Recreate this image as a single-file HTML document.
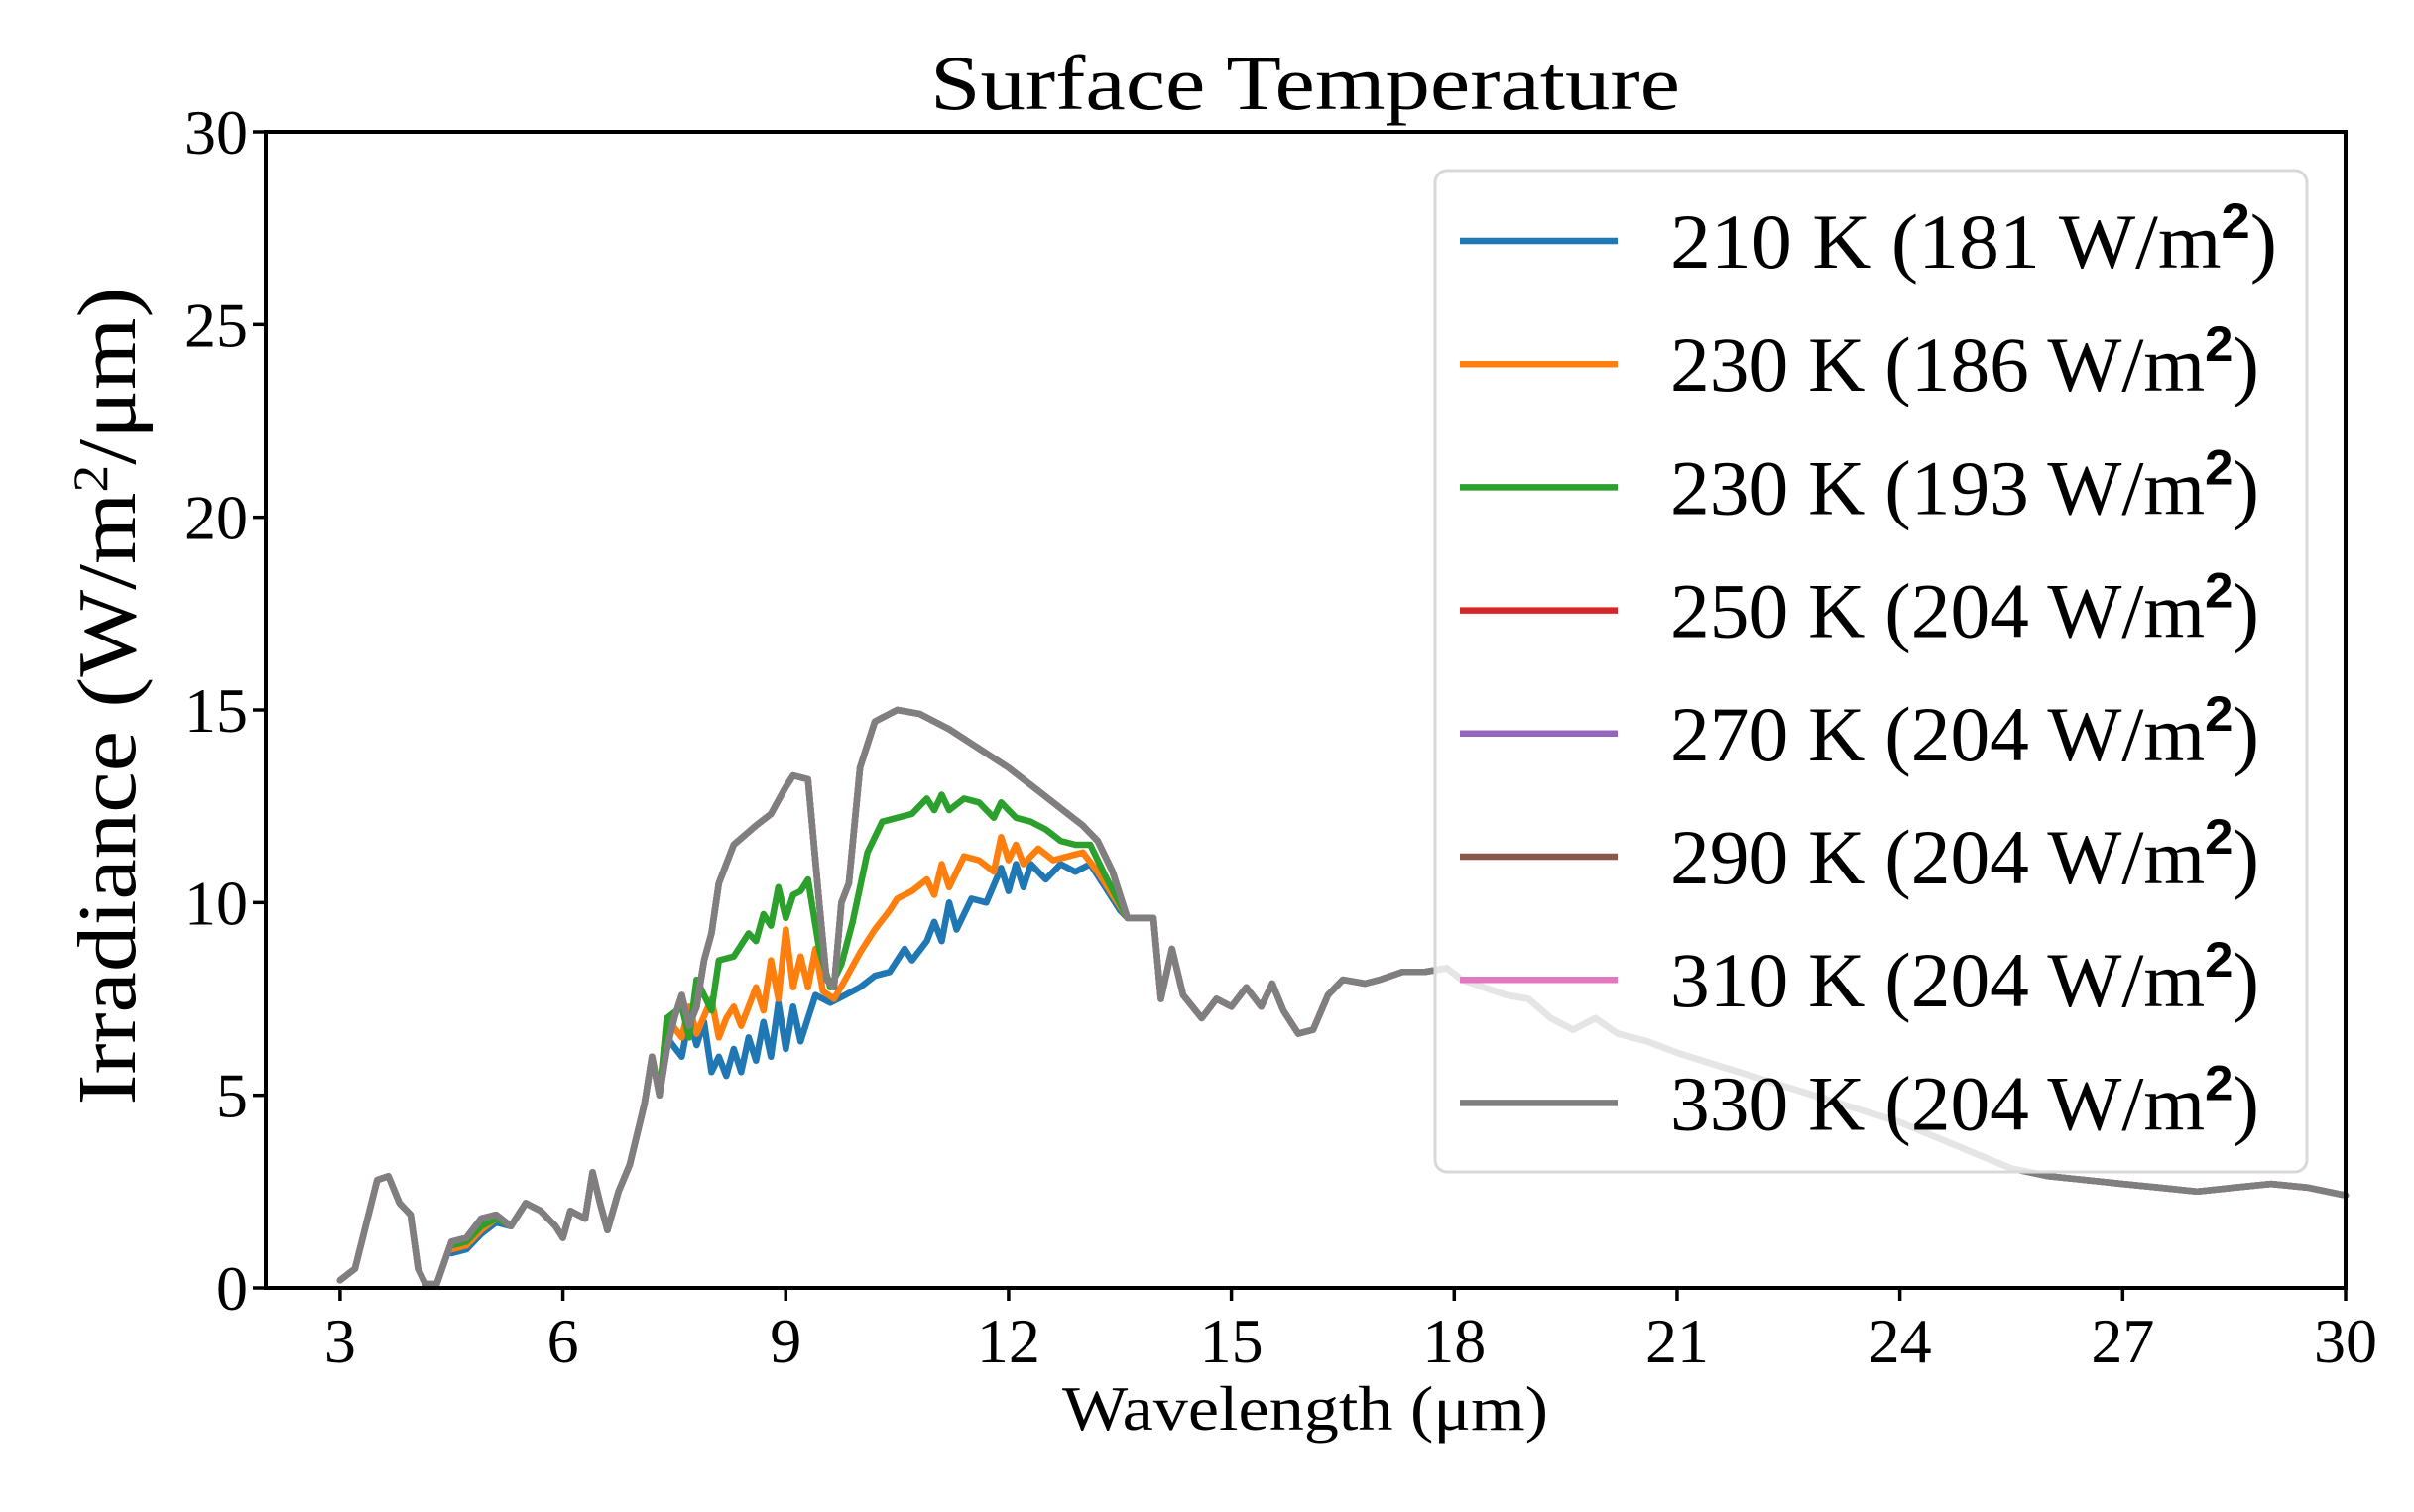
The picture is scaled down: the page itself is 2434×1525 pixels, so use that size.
<!DOCTYPE html>
<html><head><meta charset="utf-8"><style>
html,body{margin:0;padding:0;background:#fff;}
svg{display:block;font-family:"Liberation Serif",serif;}
</style></head><body>
<svg id="chart" width="2434" height="1525" viewBox="0 0 2434 1525" xmlns="http://www.w3.org/2000/svg">
<rect width="2434" height="1525" fill="#fff"/>
<g id="plot"></g>
<g id="axes"></g>
<g id="legend"></g>
</svg>
<script>
const NS='http://www.w3.org/2000/svg';
// ---- data ----
const seriesLabels=['210 K  (181 W/m','230 K  (186 W/m','230 K  (193 W/m','250 K  (204 W/m','270 K  (204 W/m','290 K  (204 W/m','310 K  (204 W/m','330 K  (204 W/m'];
const seriesColors=['#1f77b4','#ff7f0e','#2ca02c','#d62728','#9467bd','#8c564b','#e377c2','#7f7f7f'];
const xTicks=[3,6,9,12,15,18,21,24,27,30];
const yTicks=[0,5,10,15,20,25,30];
const grayX=[3.0,3.2,3.5,3.65,3.8,3.95,4.05,4.15,4.3,4.5,4.7,4.9,5.1,5.3,5.5,5.7,5.9,6.0,6.1,6.3,6.4,6.5,6.6,6.75,6.9,7.1,7.2,7.3,7.4,7.5,7.6,7.7,7.8,7.9,8.0,8.1,8.3,8.6,8.8,9.0,9.1,9.3,9.45,9.55,9.65,9.75,9.85,10.0,10.2,10.5,10.8,11.2,11.6,12.0,12.4,12.8,13.0,13.2,13.4,13.6,13.8,13.95,14.05,14.2,14.35,14.6,14.8,15.0,15.2,15.4,15.55,15.7,15.9,16.1,16.3,16.5,16.8,17.0,17.3,17.6,17.9,18.1,18.4,18.7,19.0,19.3,19.6,19.9,20.2,20.6,21.0,21.5,22.0,22.5,23.0,23.5,24.0,24.5,25.0,25.5,26.0,26.5,27.0,27.5,28.0,28.5,29.0,29.5,30.0];
const grayY=[0.2,0.5,2.8,2.9,2.2,1.9,0.5,0.1,0.1,1.2,1.3,1.8,1.9,1.6,2.2,2.0,1.6,1.3,2.0,1.8,3.0,2.2,1.5,2.5,3.2,4.8,6.0,5.0,6.2,7.0,7.6,6.8,7.3,8.5,9.2,10.5,11.5,12.0,12.3,13.0,13.3,13.2,10.0,8.0,7.8,10.0,10.5,13.5,14.7,15.0,14.9,14.5,14.0,13.5,12.9,12.3,12.0,11.6,10.8,9.6,9.6,9.6,7.5,8.8,7.6,7.0,7.5,7.3,7.8,7.3,7.9,7.2,6.6,6.7,7.6,8.0,7.9,8.0,8.2,8.2,8.3,8.0,7.8,7.6,7.5,7.0,6.7,7.0,6.6,6.4,6.1,5.8,5.5,5.2,4.9,4.6,4.3,3.9,3.5,3.1,2.9,2.8,2.7,2.6,2.5,2.6,2.7,2.6,2.4];
const blueX=[4.5,4.7,4.9,5.1,5.3,5.5,5.7,5.9,6.0,6.1,6.3,6.4,6.5,6.6,6.75,6.9,7.1,7.2,7.3,7.4,7.6,7.7,7.8,7.9,8.0,8.1,8.2,8.3,8.4,8.5,8.6,8.7,8.8,8.9,9.0,9.1,9.2,9.3,9.4,9.6,9.8,10.0,10.2,10.4,10.6,10.7,10.9,11.0,11.1,11.2,11.3,11.5,11.7,11.9,12.0,12.1,12.2,12.3,12.5,12.7,12.9,13.1,13.3,13.5,13.6];
const blueY=[0.9,1.0,1.4,1.7,1.6,2.2,2.0,1.6,1.3,2.0,1.8,3.0,2.2,1.5,2.5,3.2,4.8,6.0,5.0,6.5,6.0,7.0,6.3,6.9,5.6,6.0,5.5,6.2,5.6,6.5,5.9,6.9,6.0,7.4,6.2,7.3,6.4,7.0,7.6,7.4,7.6,7.8,8.1,8.2,8.8,8.5,9.0,9.5,9.0,10.0,9.3,10.1,10.0,10.9,10.3,11.0,10.4,11.0,10.6,11.0,10.8,11.0,10.4,9.8,9.6];
const orangeX=[4.5,4.7,4.9,5.1,5.3,5.5,5.7,5.9,6.0,6.1,6.3,6.4,6.5,6.6,6.75,6.9,7.1,7.2,7.3,7.4,7.6,7.7,7.8,8.0,8.1,8.2,8.3,8.4,8.6,8.7,8.8,8.9,9.0,9.1,9.2,9.3,9.4,9.5,9.65,9.8,10.0,10.2,10.4,10.5,10.7,10.9,11.0,11.1,11.2,11.4,11.6,11.8,11.9,12.0,12.1,12.2,12.4,12.6,12.8,13.0,13.2,13.4,13.6];
const orangeY=[1.0,1.1,1.5,1.8,1.6,2.2,2.0,1.6,1.3,2.0,1.8,3.0,2.2,1.5,2.5,3.2,4.8,6.0,5.0,7.0,6.5,7.3,6.6,7.5,6.5,7.0,7.3,6.8,7.8,7.2,8.5,7.5,9.3,7.8,8.6,7.8,8.8,7.7,7.5,8.0,8.7,9.3,9.8,10.1,10.3,10.6,10.2,11.0,10.4,11.2,11.1,10.8,11.7,11.1,11.5,11.0,11.4,11.1,11.2,11.3,10.8,10.2,9.6];
const greenX=[4.5,4.7,4.9,5.1,5.3,5.5,5.7,5.9,6.0,6.1,6.3,6.4,6.5,6.6,6.75,6.9,7.1,7.2,7.3,7.4,7.6,7.7,7.8,8.0,8.1,8.3,8.5,8.6,8.7,8.8,8.9,9.0,9.1,9.2,9.3,9.45,9.6,9.75,9.9,10.1,10.3,10.5,10.7,10.9,11.0,11.1,11.2,11.4,11.6,11.8,11.9,12.1,12.3,12.5,12.7,12.9,13.1,13.3,13.6];
const greenY=[1.1,1.2,1.6,1.8,1.6,2.2,2.0,1.6,1.3,2.0,1.8,3.0,2.2,1.5,2.5,3.2,4.8,6.0,5.0,7.0,7.3,6.5,8.0,7.2,8.5,8.6,9.2,9.0,9.7,9.4,10.4,9.6,10.2,10.3,10.6,8.8,7.8,8.4,9.5,11.3,12.1,12.2,12.3,12.7,12.4,12.8,12.4,12.7,12.6,12.2,12.6,12.2,12.1,11.9,11.6,11.5,11.5,10.7,9.6];
// ---- axes functions ----
const L=268,R=2365,T=133,B=1299,XMIN=2,XMAX=30,YMIN=0,YMAX=30;
const sx=x=>L+(x-XMIN)/(XMAX-XMIN)*(R-L);
const sy=y=>B-(y-YMIN)/(YMAX-YMIN)*(B-T);
const plot=document.getElementById('plot');
const axes=document.getElementById('axes');
const legend=document.getElementById('legend');
function mk(tag,attrs,parent){const e=document.createElementNS(NS,tag);for(const k in attrs)e.setAttribute(k,attrs[k]);parent.appendChild(e);return e;}
function pathD(xs,ys){return xs.map((x,i)=>(i?'L':'M')+sx(x).toFixed(1)+','+sy(ys[i]).toFixed(1)).join('');}
const seriesData=[[blueX,blueY],[orangeX,orangeY],[greenX,greenY],[grayX,grayY],[grayX,grayY],[grayX,grayY],[grayX,grayY],[grayX,grayY]];
const lineNames=['line-210k','line-230k-186','line-230k-193','line-250k','line-270k','line-290k','line-310k','line-330k'];
seriesData.forEach((d,i)=>{
  const p=mk('path',{d:pathD(d[0],d[1]),fill:'none',stroke:seriesColors[i],'stroke-width':6.5,'stroke-linejoin':'round','stroke-linecap':'round'},plot);
  
  
});
const sp=mk('rect',{x:L,y:T,width:R-L,height:B-T,fill:'none',stroke:'#000','stroke-width':4},axes);


xTicks.forEach(v=>{
  const t=mk('line',{x1:sx(v),x2:sx(v),y1:B,y2:B+13,stroke:'#000','stroke-width':3.5},axes);
  
  
  const tx=mk('text',{x:sx(v),y:1374,'text-anchor':'middle','font-size':64},axes);
  tx.textContent=v;
  
  
});
yTicks.forEach(v=>{
  const t=mk('line',{x1:L-13,x2:L,y1:sy(v),y2:sy(v),stroke:'#000','stroke-width':3.5},axes);
  
  
  const tx=mk('text',{x:250,y:sy(v)+22,'text-anchor':'end','font-size':64},axes);
  tx.textContent=v;
  
  
});
const title=mk('text',{x:1316,y:110,'text-anchor':'middle','font-size':78,textLength:756,lengthAdjust:'spacingAndGlyphs'},axes);
title.textContent='Surface Temperature';


const xl=mk('text',{x:1316,y:1442,'text-anchor':'middle','font-size':64,textLength:490,lengthAdjust:'spacingAndGlyphs'},axes);
xl.textContent='Wavelength (μm)';


const yl=mk('text',{x:0,y:0,'text-anchor':'middle','font-size':84,textLength:825,lengthAdjust:'spacingAndGlyphs',transform:'translate(136,702) rotate(-90)'},axes);
yl.innerHTML='Irradiance (W/m<tspan font-size="50" dy="-28">2</tspan><tspan dy="28">/μm)</tspan>';


const lb=mk('rect',{x:1447,y:172,width:879,height:1010,rx:12,fill:'#fff','fill-opacity':0.8,stroke:'#d8d8d8','stroke-width':3},legend);


seriesLabels.forEach((lab,i)=>{
  const cy=243+i*124.2;
  const g=mk('g',{},legend);
  
  
  mk('line',{x1:1472,x2:1631,y1:cy,y2:cy,stroke:seriesColors[i],'stroke-width':6.5},g);
  const t=mk('text',{x:1684,y:cy+27,'font-size':78,textLength:(i==0?612:594),lengthAdjust:'spacingAndGlyphs'},g);
  t.innerHTML=lab+'<tspan font-family="Liberation Sans,sans-serif" font-weight="bold" font-size="50" dy="-30">2</tspan><tspan dy="30">)</tspan>';
});
</script>
</body></html>
